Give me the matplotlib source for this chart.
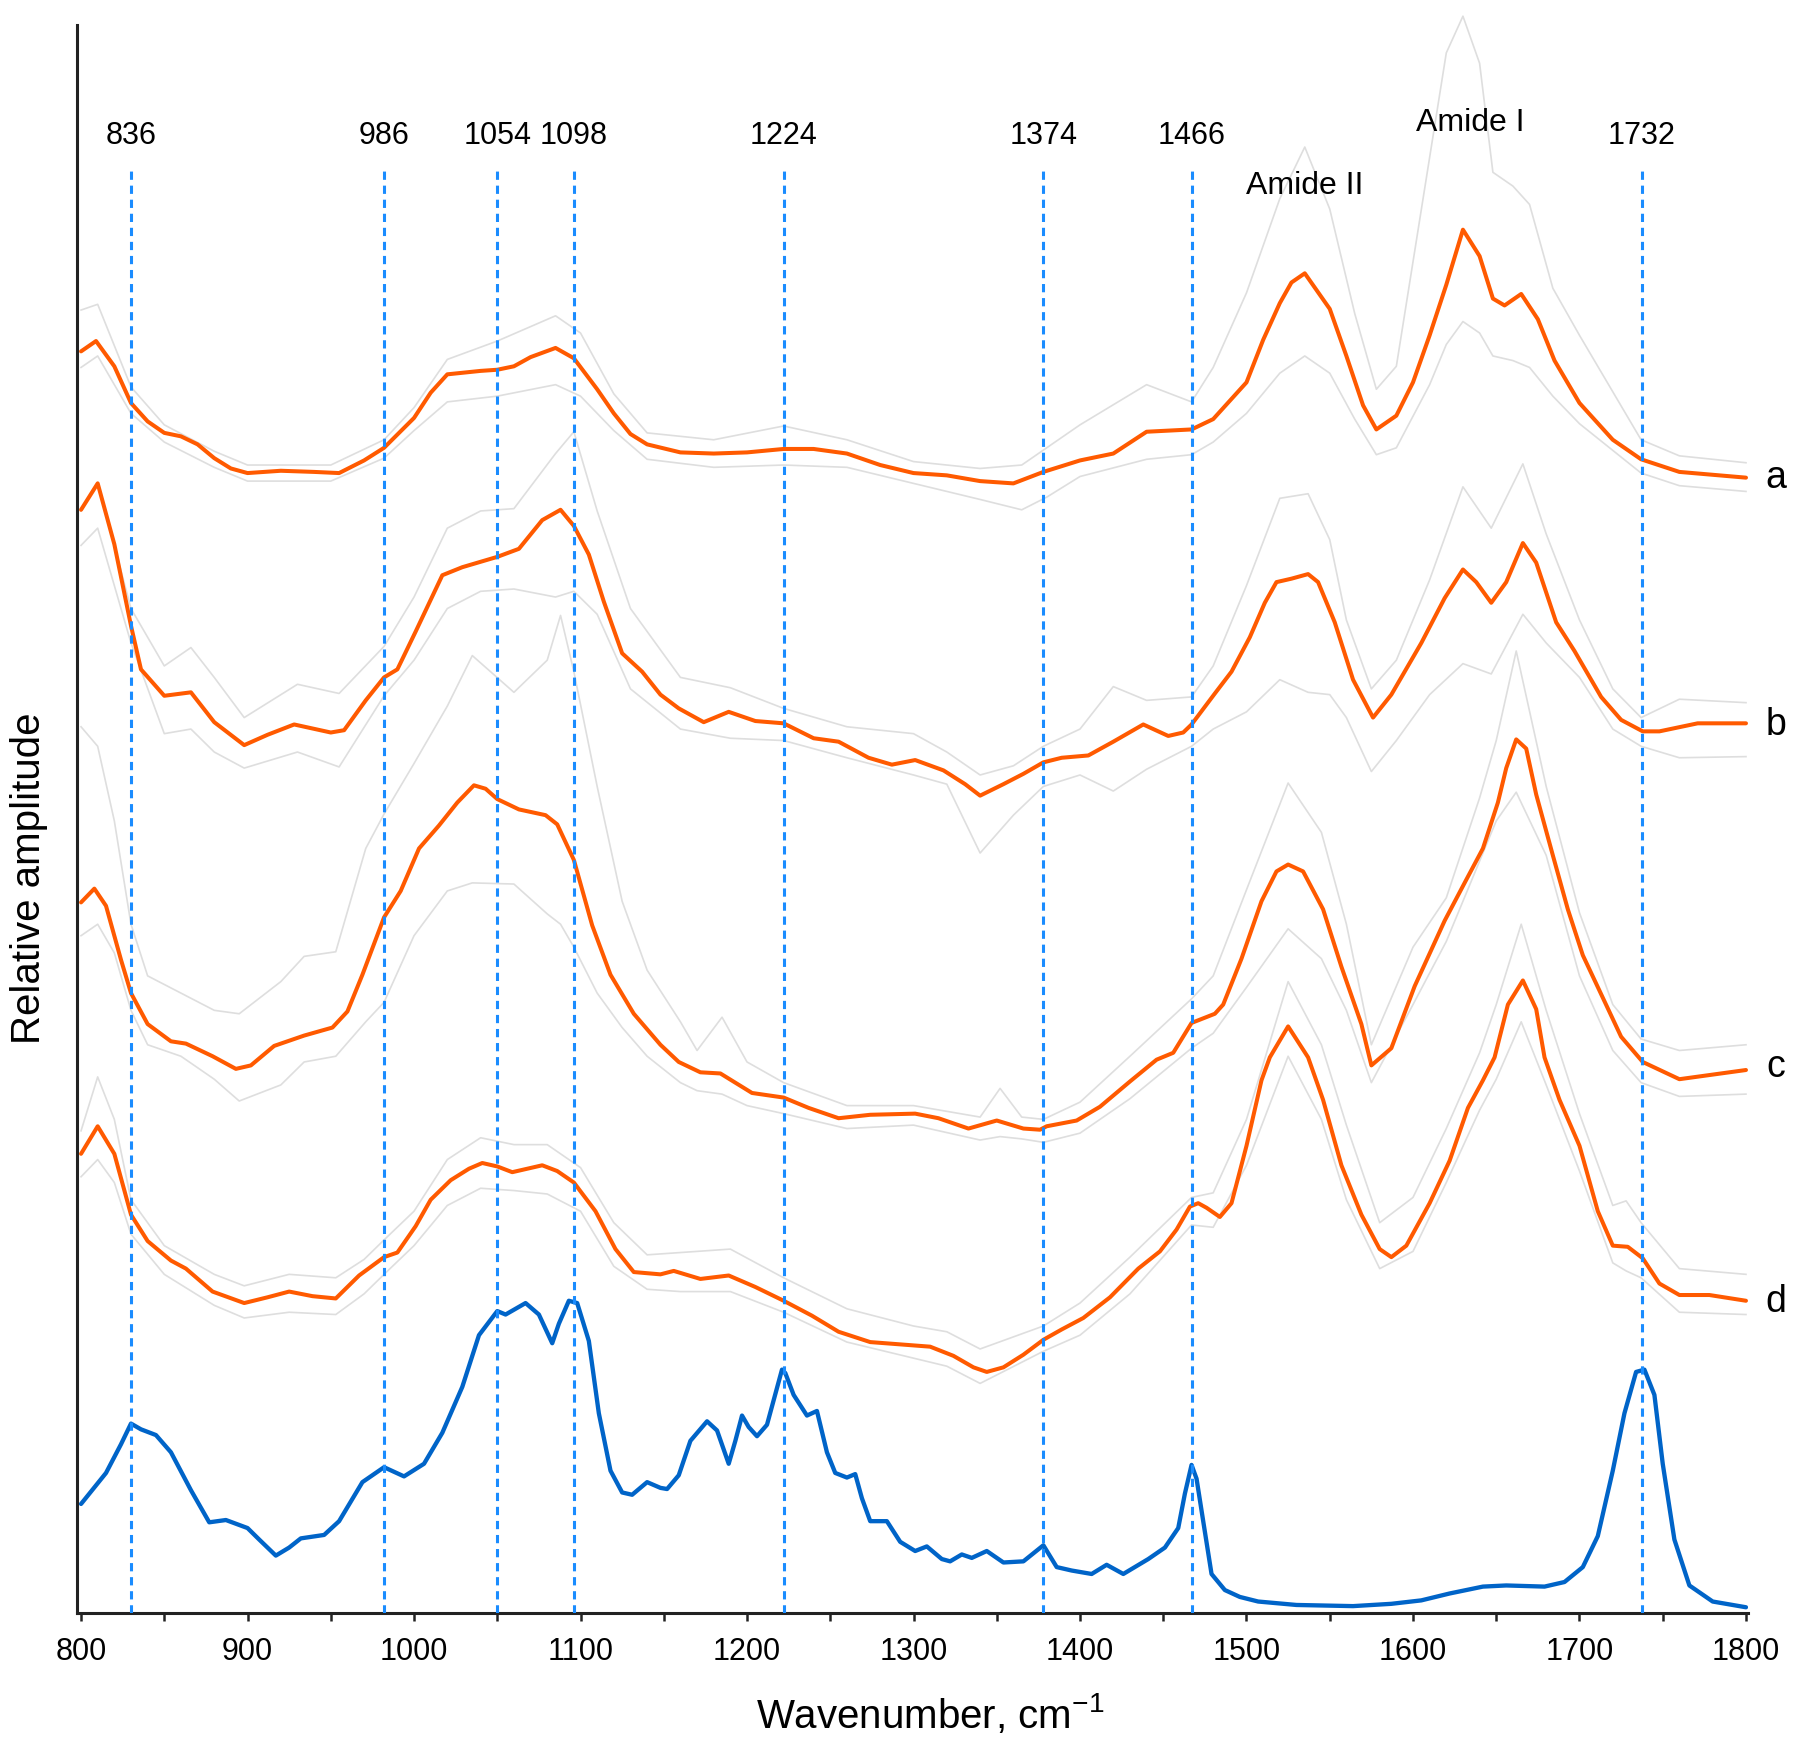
import matplotlib
matplotlib.use("Agg")
from matplotlib import pyplot as plt

plt.rcParams['font.family'] = ['Liberation Sans', 'DejaVu Sans']
plt.rcParams['mathtext.default'] = 'regular'

# mean spectra (orange), offset per sample
a_x = [800, 809, 820, 830, 840, 850, 860, 870, 880, 890, 900, 920, 940, 955, 970, 982, 1000, 1010, 1020, 1040,
       1050, 1060, 1070, 1085, 1096, 1110, 1120, 1130, 1140, 1160, 1180, 1200, 1222, 1240, 1260, 1280, 1300, 1320,
       1340, 1360, 1378, 1400, 1420, 1440, 1467, 1480, 1500, 1510, 1520, 1527, 1535, 1550, 1560, 1570, 1578, 1590,
       1600, 1610, 1620, 1630, 1640, 1648, 1655, 1665, 1675, 1685, 1700, 1720, 1737, 1760, 1800]
a_y = [10.99, 11.08, 10.86, 10.54, 10.38, 10.28, 10.25, 10.18, 10.06, 9.97, 9.93, 9.95, 9.94, 9.93, 10.04, 10.15,
       10.41, 10.63, 10.79, 10.82, 10.83, 10.86, 10.94, 11.02, 10.93, 10.66, 10.45, 10.27, 10.18, 10.11, 10.10, 10.11,
       10.14, 10.14, 10.10, 10.00, 9.93, 9.91, 9.86, 9.84, 9.94, 10.04, 10.10, 10.29, 10.31, 10.40, 10.72, 11.09,
       11.41, 11.59, 11.67, 11.36, 10.95, 10.52, 10.31, 10.43, 10.72, 11.13, 11.57, 12.05, 11.82, 11.45, 11.39, 11.49,
       11.27, 10.91, 10.54, 10.22, 10.05, 9.94, 9.89]

b_x = [800, 810, 820, 830, 836, 850, 866, 880, 898, 912, 928, 950, 958, 971, 982, 990, 1001, 1017, 1029, 1050,
       1063, 1077, 1088, 1096, 1105, 1114, 1125, 1137, 1148, 1159, 1174, 1189, 1205, 1222, 1240, 1255, 1273, 1287,
       1301, 1318, 1331, 1340, 1354, 1366, 1378, 1389, 1405, 1420, 1438, 1453, 1462, 1467, 1481, 1491, 1502, 1511,
       1518, 1527, 1537, 1543, 1553, 1564, 1576, 1587, 1605, 1619, 1630, 1638, 1647, 1656, 1666, 1674, 1686, 1697,
       1713, 1725, 1738, 1748, 1771, 1800]
b_y = [9.61, 9.84, 9.31, 8.60, 8.22, 7.99, 8.02, 7.76, 7.56, 7.65, 7.74, 7.67, 7.69, 7.95, 8.15, 8.22, 8.55, 9.04,
       9.11, 9.20, 9.27, 9.52, 9.61, 9.47, 9.22, 8.81, 8.36, 8.20, 8.00, 7.88, 7.76, 7.85, 7.77, 7.75, 7.62, 7.59,
       7.45, 7.39, 7.43, 7.34, 7.22, 7.12, 7.22, 7.31, 7.41, 7.45, 7.47, 7.59, 7.74, 7.64, 7.67, 7.74, 8.01, 8.20,
       8.50, 8.80, 8.98, 9.01, 9.05, 8.98, 8.63, 8.13, 7.80, 8.00, 8.45, 8.84, 9.09, 8.98, 8.80, 8.98, 9.32, 9.15,
       8.63, 8.38, 7.98, 7.78, 7.68, 7.68, 7.75, 7.75]

c_x = [800, 808, 815, 824, 830, 840, 854, 863, 879, 893, 902, 916, 934, 951, 960, 969, 982, 992, 1003, 1015, 1026,
       1036, 1043, 1050, 1063, 1079, 1086, 1096, 1107, 1118, 1132, 1148, 1159, 1172, 1184, 1203, 1222, 1237, 1255,
       1274, 1301, 1315, 1333, 1350, 1366, 1376, 1380, 1398, 1412, 1430, 1446, 1456, 1467, 1481, 1486, 1497, 1509,
       1518, 1525, 1534, 1546, 1557, 1569, 1575, 1587, 1601, 1619, 1631, 1642, 1651, 1656, 1662, 1668, 1674, 1684,
       1693, 1702, 1714, 1725, 1738, 1760, 1800]
c_y = [6.19, 6.31, 6.16, 5.69, 5.40, 5.13, 4.98, 4.96, 4.85, 4.74, 4.77, 4.94, 5.03, 5.10, 5.24, 5.56, 6.06, 6.29,
       6.66, 6.86, 7.06, 7.21, 7.18, 7.09, 7.00, 6.95, 6.87, 6.56, 5.99, 5.56, 5.22, 4.95, 4.80, 4.71, 4.70, 4.53,
       4.49, 4.40, 4.31, 4.34, 4.35, 4.31, 4.22, 4.29, 4.22, 4.21, 4.24, 4.29, 4.41, 4.63, 4.82, 4.88, 5.14, 5.22,
       5.30, 5.70, 6.20, 6.46, 6.52, 6.46, 6.13, 5.63, 5.13, 4.77, 4.92, 5.46, 6.03, 6.36, 6.66, 7.06, 7.36, 7.61,
       7.53, 7.13, 6.60, 6.13, 5.73, 5.36, 5.02, 4.80, 4.65, 4.73]

d_x = [800, 810, 820, 830, 840, 854, 863, 879, 898, 912, 925, 939, 953, 967, 982, 990, 1001, 1010, 1022, 1033, 1041,
       1050, 1059, 1077, 1086, 1096, 1109, 1121, 1132, 1148, 1156, 1172, 1189, 1205, 1222, 1239, 1255, 1274, 1292,
       1310, 1324, 1336, 1344, 1354, 1366, 1378, 1389, 1402, 1418, 1435, 1448, 1458, 1466, 1471, 1476, 1484, 1491,
       1500, 1509, 1514, 1525, 1537, 1546, 1557, 1569, 1580, 1587, 1596, 1610, 1622, 1633, 1642, 1649, 1657, 1666,
       1674, 1679, 1688, 1700, 1711, 1720, 1729, 1738, 1748, 1760, 1778, 1800]
d_y = [4.00, 4.24, 4.00, 3.47, 3.24, 3.07, 3.00, 2.80, 2.70, 2.75, 2.80, 2.76, 2.74, 2.94, 3.10, 3.14, 3.37, 3.60,
       3.77, 3.87, 3.92, 3.89, 3.84, 3.90, 3.85, 3.75, 3.50, 3.17, 2.97, 2.95, 2.98, 2.91, 2.94, 2.84, 2.72, 2.59,
       2.45, 2.36, 2.34, 2.32, 2.24, 2.14, 2.10, 2.14, 2.25, 2.38, 2.47, 2.57, 2.75, 3.00, 3.15, 3.34, 3.54, 3.57,
       3.53, 3.45, 3.57, 4.07, 4.64, 4.84, 5.11, 4.84, 4.47, 3.90, 3.47, 3.17, 3.10, 3.20, 3.57, 3.94, 4.40, 4.64,
       4.84, 5.30, 5.51, 5.26, 4.84, 4.47, 4.07, 3.50, 3.20, 3.19, 3.09, 2.87, 2.77, 2.77, 2.72]

# reference spectrum (blue)
ref_x = [800, 815, 824, 830, 836, 845, 854, 866, 877, 887, 900, 907, 917, 925, 932, 946, 955, 969, 982, 994, 1006,
         1017, 1029, 1039, 1050, 1055, 1067, 1075, 1083, 1087, 1093, 1098, 1105, 1111, 1118, 1125, 1131, 1140, 1148,
         1152, 1159, 1166, 1176, 1182, 1189, 1193, 1197, 1201, 1206, 1212, 1221, 1223, 1228, 1236, 1242, 1248, 1253,
         1260, 1265, 1269, 1274, 1284, 1292, 1301, 1308, 1317, 1322, 1329, 1335, 1344, 1354, 1366, 1372, 1378, 1386,
         1395, 1407, 1416, 1426, 1441, 1451, 1459, 1463, 1467, 1470, 1474, 1479, 1487, 1496, 1507, 1530, 1564, 1587,
         1605, 1622, 1642, 1656, 1679, 1691, 1702, 1711, 1720, 1727, 1734, 1739, 1745, 1750, 1757, 1766, 1780, 1800]
ref_y = [0.95, 1.22, 1.47, 1.65, 1.60, 1.55, 1.40, 1.07, 0.79, 0.81, 0.74, 0.64, 0.50, 0.57, 0.65, 0.68, 0.80, 1.14,
         1.27, 1.19, 1.30, 1.57, 1.97, 2.42, 2.63, 2.60, 2.70, 2.60, 2.35, 2.52, 2.72, 2.70, 2.37, 1.74, 1.24, 1.05,
         1.03, 1.14, 1.09, 1.08, 1.20, 1.50, 1.67, 1.59, 1.30, 1.50, 1.72, 1.62, 1.54, 1.64, 2.12, 2.09, 1.90, 1.72,
         1.76, 1.40, 1.22, 1.18, 1.21, 1.00, 0.80, 0.80, 0.62, 0.54, 0.58, 0.47, 0.45, 0.51, 0.48, 0.54, 0.44, 0.45,
         0.52, 0.59, 0.40, 0.37, 0.34, 0.42, 0.34, 0.47, 0.57, 0.74, 1.04, 1.29, 1.17, 0.80, 0.34, 0.20, 0.14, 0.10,
         0.07, 0.06, 0.08, 0.11, 0.17, 0.23, 0.24, 0.23, 0.27, 0.40, 0.67, 1.24, 1.74, 2.10, 2.12, 1.90, 1.30, 0.64,
         0.24, 0.10, 0.05]

# individual spectra: upper / lower grey traces of each group
a_gx = [800, 810, 830, 850, 880, 900, 950, 982, 1000, 1020, 1050, 1085, 1100, 1120, 1140, 1180, 1222, 1260, 1300,
        1340, 1365, 1380, 1400, 1440, 1467, 1480, 1500, 1520, 1535, 1550, 1565, 1578, 1590, 1610, 1620, 1630, 1640,
        1648, 1660, 1670, 1684, 1700, 1737, 1760, 1800]
a_hi = [11.35, 11.40, 10.68, 10.35, 10.12, 10.00, 10.00, 10.22, 10.50, 10.92, 11.08, 11.30, 11.15, 10.62, 10.28,
        10.22, 10.34, 10.22, 10.03, 9.97, 10.00, 10.15, 10.35, 10.70, 10.55, 10.85, 11.50, 12.32, 12.77, 12.23, 11.32,
        10.66, 10.86, 12.68, 13.59, 13.91, 13.50, 12.55, 12.43, 12.27, 11.54, 11.13, 10.22, 10.08, 10.02]
a_lo = [10.85, 10.95, 10.45, 10.20, 9.98, 9.86, 9.86, 10.06, 10.30, 10.55, 10.60, 10.70, 10.60, 10.30, 10.05, 9.98,
        10.00, 9.98, 9.84, 9.70, 9.61, 9.72, 9.90, 10.05, 10.09, 10.20, 10.45, 10.80, 10.95, 10.80, 10.40, 10.09,
        10.15, 10.70, 11.05, 11.25, 11.15, 10.95, 10.91, 10.85, 10.60, 10.36, 9.93, 9.82, 9.77]

b_gx = [800, 810, 830, 850, 866, 880, 898, 930, 955, 982, 1000, 1020, 1040, 1060, 1085, 1096, 1110, 1130, 1160,
        1190, 1222, 1260, 1300, 1320, 1340, 1360, 1378, 1400, 1420, 1440, 1467, 1480, 1500, 1520, 1537, 1550, 1560,
        1575, 1590, 1610, 1630, 1647, 1666, 1680, 1700, 1720, 1737, 1760, 1800]
b_hi = [9.60, 9.85, 8.75, 8.25, 8.41, 8.15, 7.80, 8.09, 8.01, 8.42, 8.85, 9.45, 9.60, 9.62, 10.10, 10.29, 9.60,
        8.75, 8.15, 8.06, 7.88, 7.72, 7.66, 7.50, 7.30, 7.38, 7.55, 7.70, 8.07, 7.95, 7.98, 8.25, 8.95, 9.71, 9.75,
        9.35, 8.65, 8.05, 8.30, 9.00, 9.81, 9.45, 10.01, 9.40, 8.65, 8.05, 7.80, 7.96, 7.93]
b_lo = [9.30, 9.45, 8.45, 7.66, 7.70, 7.50, 7.36, 7.50, 7.37, 7.99, 8.30, 8.75, 8.90, 8.92, 8.85, 8.90, 8.70, 8.05,
        7.70, 7.62, 7.60, 7.45, 7.30, 7.22, 6.62, 6.95, 7.20, 7.30, 7.16, 7.35, 7.55, 7.70, 7.85, 8.13, 8.02, 8.00,
        7.80, 7.33, 7.60, 8.00, 8.27, 8.18, 8.70, 8.45, 8.15, 7.70, 7.55, 7.45, 7.46]

c_gx = [800, 810, 820, 830, 840, 860, 880, 895, 920, 934, 953, 971, 982, 1000, 1020, 1035, 1060, 1080, 1088, 1096,
        1110, 1125, 1140, 1160, 1170, 1185, 1200, 1222, 1260, 1300, 1340, 1352, 1365, 1378, 1400, 1430, 1467, 1480,
        1500, 1525, 1545, 1560, 1575, 1600, 1620, 1640, 1650, 1662, 1680, 1700, 1720, 1737, 1760, 1800]
c_hi = [7.72, 7.55, 6.90, 6.00, 5.55, 5.40, 5.25, 5.22, 5.50, 5.72, 5.76, 6.66, 6.96, 7.40, 7.90, 8.34, 8.02, 8.30,
        8.69, 8.20, 7.20, 6.20, 5.60, 5.15, 4.90, 5.19, 4.80, 4.62, 4.42, 4.42, 4.32, 4.57, 4.32, 4.30, 4.45, 4.85,
        5.35, 5.55, 6.30, 7.23, 6.80, 6.00, 4.95, 5.80, 6.23, 7.10, 7.60, 8.38, 7.20, 6.10, 5.30, 5.00, 4.90, 4.95]
c_lo = [5.90, 6.00, 5.75, 5.25, 4.95, 4.85, 4.65, 4.46, 4.60, 4.80, 4.85, 5.15, 5.32, 5.90, 6.29, 6.36, 6.35, 6.09,
        6.00, 5.80, 5.40, 5.10, 4.85, 4.62, 4.55, 4.52, 4.42, 4.35, 4.22, 4.25, 4.12, 4.15, 4.13, 4.10, 4.18, 4.48,
        4.92, 5.05, 5.45, 5.96, 5.70, 5.25, 4.62, 5.30, 5.85, 6.55, 6.90, 7.15, 6.60, 5.55, 4.90, 4.62, 4.50, 4.52]

d_gx = [800, 810, 820, 830, 850, 880, 898, 925, 953, 970, 982, 1000, 1020, 1040, 1060, 1080, 1100, 1120, 1140, 1160,
        1190, 1222, 1260, 1300, 1320, 1340, 1378, 1400, 1430, 1467, 1480, 1500, 1525, 1545, 1560, 1580, 1600, 1620,
        1640, 1650, 1665, 1680, 1700, 1720, 1728, 1737, 1760, 1800]
d_hi = [4.20, 4.67, 4.30, 3.60, 3.20, 2.95, 2.85, 2.95, 2.92, 3.08, 3.25, 3.50, 3.95, 4.14, 4.08, 4.08, 3.88, 3.40,
        3.12, 3.14, 3.17, 2.92, 2.65, 2.50, 2.45, 2.30, 2.50, 2.70, 3.10, 3.62, 3.66, 4.30, 5.50, 4.95, 4.25, 3.40,
        3.62, 4.22, 4.88, 5.30, 6.00, 5.25, 4.35, 3.55, 3.59, 3.40, 3.00, 2.95]
d_lo = [3.80, 3.95, 3.75, 3.30, 2.95, 2.68, 2.57, 2.62, 2.60, 2.78, 2.95, 3.20, 3.55, 3.70, 3.68, 3.65, 3.50, 3.02,
        2.82, 2.80, 2.80, 2.62, 2.36, 2.22, 2.15, 2.00, 2.28, 2.42, 2.78, 3.38, 3.36, 3.90, 4.85, 4.30, 3.60, 3.00,
        3.15, 3.75, 4.38, 4.65, 5.15, 4.60, 3.85, 3.05, 2.98, 2.92, 2.62, 2.60]

# marked bands: where the dashed line sits and its label
band_pos = [830, 982, 1050, 1096, 1222, 1378, 1467, 1737.5]
band_labels = ["836", "986", "1054", "1098", "1224", "1374", "1466", "1732"]

sample_names = ["a", "b", "c", "d"]
sample_label_y = [9.80, 7.65, 4.67, 2.62]

ORANGE = "#ff5a00"
BLUE = "#0064c8"
DASH = "#1a8cff"
GREY = "#dedede"


def plot_spectra():
    fig = plt.figure(figsize=(18, 17.42), dpi=100)
    ax = fig.add_axes([0.0428, 0.07405, 0.9283, 0.9226])

    groups = [(a_gx, a_hi, a_lo, a_x, a_y), (b_gx, b_hi, b_lo, b_x, b_y),
              (c_gx, c_hi, c_lo, c_x, c_y), (d_gx, d_hi, d_lo, d_x, d_y)]
    for gx, hi, lo, mx, my in groups:
        ax.plot(gx, hi, color=GREY, lw=1.2, solid_joinstyle="round", clip_on=False)
        ax.plot(gx, lo, color=GREY, lw=1.2, solid_joinstyle="round", clip_on=False)
        ax.plot(mx, my, color=ORANGE, lw=2.9, solid_joinstyle="round", solid_capstyle="round")

    ax.plot(ref_x, ref_y, color=BLUE, lw=3.1, solid_joinstyle="round", solid_capstyle="round")

    ax.vlines(band_pos, 0, 12.59, colors=DASH, linestyles=(0, (2.7, 1.9)), linewidth=2.2, zorder=5)
    for pos, lab in zip(band_pos, band_labels):
        ax.text(pos, 12.80, lab, ha="center", va="baseline", fontsize=22)

    ax.text(1535, 12.36, "Amide II", ha="center", va="baseline", fontsize=23)
    ax.text(1634.4, 12.91, "Amide I", ha="center", va="baseline", fontsize=23)

    for name, yy in zip(sample_names, sample_label_y):
        ax.text(1818, yy, name, ha="center", va="baseline", fontsize=27)

    ax.set_xlim(797.6, 1801.2)
    ax.set_ylim(0, 14.0)
    ax.spines["top"].set_visible(False)
    ax.spines["right"].set_visible(False)
    ax.spines["left"].set_bounds(0, 13.83)
    for s in ("left", "bottom"):
        ax.spines[s].set_linewidth(2.2)
        ax.spines[s].set_color("#222222")

    ax.set_xticks(range(800, 1801, 100))
    ax.set_xticks(range(850, 1800, 100), minor=True)
    ax.set_yticks([])
    ax.tick_params(axis="x", which="both", direction="out", length=6, width=1.8, color="#222222")
    ax.tick_params(axis="x", which="major", labelsize=22, pad=11)

    fig.text(0.517, 0.008, "Wavenumber, cm$^{-1}$", ha="center", va="baseline", fontsize=29)
    fig.text(0.016, 0.496, "Relative amplitude", ha="center", va="center", rotation=90, fontsize=29)

    fig.savefig("out.png", dpi=100)


def main():
    plot_spectra()


if __name__ == "__main__":
    main()
